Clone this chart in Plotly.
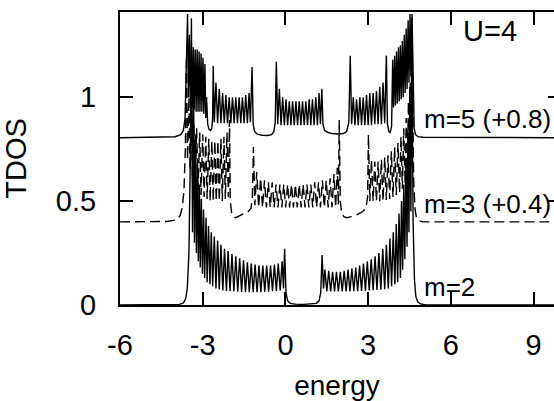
import plotly.graph_objects as go

# ---------------- data ----------------
x_ticks = [-6, -3, 0, 3, 6, 9]
x_tick_labels = ["-6", "-3", "0", "3", "6", "9"]
y_ticks = [0, 0.5, 1]
y_tick_labels = ["0", "0.5", "1"]

# m=2 : no shift
m2_energy = [-6.0, -4.2, -3.85, -3.7, -3.62, -3.56, -3.5, -3.45,
             -3.41, -3.37, -3.33, -3.30, -3.26, -3.23, -3.19, -3.16, -3.12, -3.09,
             -3.05, -3.01, -2.97, -2.93, -2.88, -2.84, -2.79, -2.74, -2.69, -2.64,
             -2.58, -2.52, -2.46, -2.40, -2.34, -2.27, -2.21, -2.14, -2.08, -2.01,
             -1.94, -1.87, -1.80, -1.73, -1.66, -1.59, -1.52, -1.45, -1.38, -1.31,
             -1.24, -1.17, -1.10, -1.03, -0.96, -0.89, -0.82, -0.75, -0.68, -0.61,
             -0.54, -0.47, -0.40, -0.33, -0.26, -0.19, -0.12, -0.07, -0.03, 0.02,
             0.08, 0.18, 0.35, 0.65, 0.95, 1.12, 1.22, 1.28, 1.33, 1.38,
             1.43, 1.50, 1.57, 1.64, 1.71, 1.78, 1.85, 1.92, 1.99, 2.06,
             2.13, 2.20, 2.27, 2.34, 2.41, 2.48, 2.55, 2.62, 2.69, 2.76,
             2.83, 2.90, 2.97, 3.04, 3.11, 3.18, 3.25, 3.32, 3.39, 3.46,
             3.53, 3.60, 3.66, 3.73, 3.79, 3.85, 3.91, 3.97, 4.02, 4.07,
             4.12, 4.17, 4.21, 4.25, 4.29, 4.33, 4.37, 4.41, 4.44, 4.48,
             4.51, 4.55, 4.58, 4.63, 4.68, 4.73, 4.80, 4.90, 5.10, 10.0]
m2_tdos = [0.0, 0.0, 0.003, 0.01, 0.03, 0.08, 0.25, 0.7,
           1.38, 0.35, 1.05, 0.30, 0.82, 0.25, 0.68, 0.21, 0.58, 0.18,
           0.51, 0.15, 0.46, 0.13, 0.42, 0.11, 0.38, 0.10, 0.35, 0.09,
           0.33, 0.08, 0.31, 0.075, 0.29, 0.07, 0.27, 0.068, 0.26, 0.066,
           0.245, 0.065, 0.235, 0.064, 0.225, 0.063, 0.215, 0.062, 0.205, 0.062,
           0.20, 0.062, 0.195, 0.062, 0.19, 0.062, 0.19, 0.063, 0.19, 0.064,
           0.19, 0.066, 0.195, 0.068, 0.20, 0.07, 0.21, 0.08, 0.27, 0.06,
           0.02, 0.008, 0.004, 0.003, 0.004, 0.008, 0.02, 0.06, 0.24, 0.08,
           0.17, 0.065, 0.165, 0.065, 0.16, 0.065, 0.16, 0.065, 0.16, 0.065,
           0.165, 0.065, 0.17, 0.065, 0.175, 0.066, 0.18, 0.067, 0.19, 0.068,
           0.20, 0.069, 0.21, 0.07, 0.22, 0.071, 0.235, 0.072, 0.25, 0.074,
           0.27, 0.076, 0.29, 0.08, 0.32, 0.09, 0.35, 0.10, 0.39, 0.11,
           0.44, 0.13, 0.50, 0.17, 0.58, 0.22, 0.70, 0.28, 0.85, 0.35,
           1.05, 0.45, 1.38, 0.40, 0.12, 0.04, 0.015, 0.005, 0.0, 0.0]

# m=3 : shifted by +0.4
m3_shift = 0.4
m3_energy = [-6.0, -4.3, -3.95, -3.82, -3.74, -3.68, -3.63,
             -3.59, -3.55, -3.50, -3.46, -3.41, -3.37, -3.32, -3.28, -3.22, -3.17,
             -3.11, -3.06, -3.00, -2.95, -2.89, -2.84, -2.78, -2.73, -2.67, -2.62,
             -2.56, -2.51, -2.45, -2.40, -2.34, -2.29, -2.23, -2.18, -2.12, -2.07,
             -2.03, -2.00, -1.95, -1.88, -1.80, -1.65, -1.50, -1.35, -1.25, -1.20,
             -1.16, -1.11, -1.04, -0.97, -0.90, -0.83, -0.76, -0.69, -0.62, -0.55,
             -0.48, -0.41, -0.34, -0.27, -0.20, -0.13, -0.06, 0.01, 0.08, 0.15,
             0.22, 0.29, 0.36, 0.43, 0.50, 0.57, 0.64, 0.71, 0.78, 0.85,
             0.92, 0.99, 1.06, 1.13, 1.20, 1.27, 1.34, 1.41, 1.48, 1.55,
             1.62, 1.69, 1.76, 1.82, 1.88, 1.92, 1.95, 1.99,
             2.04, 2.12, 2.22, 2.40, 2.60, 2.80, 2.92, 2.98,
             3.01, 3.06, 3.12, 3.18, 3.24, 3.30, 3.36, 3.42, 3.48, 3.54,
             3.60, 3.66, 3.72, 3.78, 3.84, 3.90, 3.96, 4.02, 4.08, 4.14,
             4.19, 4.24, 4.29, 4.34, 4.38, 4.42, 4.46, 4.50, 4.53, 4.57,
             4.60, 4.65, 4.70, 4.75, 4.85, 5.00, 10.0]
m3_tdos = [0.0, 0.002, 0.01, 0.03, 0.07, 0.15, 0.35,
           0.80, 0.30, 0.60, 0.25, 0.52, 0.20, 0.48, 0.17, 0.45, 0.15,
           0.43, 0.13, 0.42, 0.12, 0.41, 0.11, 0.40, 0.10, 0.39, 0.10,
           0.39, 0.10, 0.39, 0.10, 0.40, 0.10, 0.41, 0.11, 0.43, 0.12,
           0.49, 0.10, 0.04, 0.025, 0.02, 0.03, 0.04, 0.05, 0.065, 0.12,
           0.36, 0.08, 0.24, 0.07, 0.21, 0.07, 0.20, 0.07, 0.19, 0.07,
           0.19, 0.07, 0.18, 0.07, 0.18, 0.07, 0.18, 0.07, 0.18, 0.07,
           0.18, 0.07, 0.18, 0.07, 0.18, 0.07, 0.18, 0.07, 0.18, 0.07,
           0.18, 0.07, 0.19, 0.07, 0.19, 0.07, 0.20, 0.07, 0.20, 0.07,
           0.21, 0.07, 0.23, 0.07, 0.26, 0.08, 0.49, 0.10,
           0.04, 0.025, 0.02, 0.025, 0.035, 0.05, 0.065, 0.12,
           0.42, 0.10, 0.30, 0.10, 0.29, 0.10, 0.29, 0.10, 0.30, 0.10,
           0.31, 0.105, 0.32, 0.11, 0.34, 0.12, 0.36, 0.13, 0.38, 0.14,
           0.41, 0.16, 0.45, 0.18, 0.50, 0.20, 0.58, 0.23, 0.68, 0.27,
           0.80, 0.20, 0.06, 0.02, 0.005, 0.0, 0.0]

# m=5 : shifted by +0.8
m5_shift = 0.8
m5_energy = [-6.0, -4.5, -4.0, -3.8, -3.7, -3.64, -3.60,
             -3.55, -3.52, -3.48, -3.45, -3.41, -3.38, -3.34, -3.31, -3.27, -3.24,
             -3.20, -3.17, -3.13, -3.10, -3.06, -3.03, -2.99, -2.96, -2.92, -2.89,
             -2.86, -2.82, -2.77, -2.72, -2.67, -2.64,
             -2.62, -2.58, -2.52, -2.46, -2.40, -2.34, -2.28, -2.22, -2.16, -2.10,
             -2.04, -1.98, -1.92, -1.86, -1.80, -1.74, -1.68, -1.62, -1.56, -1.50,
             -1.44, -1.38, -1.32, -1.27, -1.21, -1.17,
             -1.12, -1.02, -0.85, -0.65, -0.50, -0.42, -0.37,
             -0.33, -0.28, -0.22, -0.16, -0.10, -0.04, 0.02, 0.08, 0.14, 0.20,
             0.26, 0.32, 0.38, 0.44, 0.50, 0.56, 0.62, 0.68, 0.74, 0.80,
             0.86, 0.92, 0.98, 1.04, 1.10, 1.16, 1.22, 1.27, 1.32, 1.36,
             1.42, 1.55, 1.70, 1.90, 2.10, 2.22, 2.30,
             2.35, 2.40, 2.46, 2.52, 2.58, 2.64, 2.70, 2.76, 2.82, 2.88,
             2.94, 3.00, 3.06, 3.12, 3.18, 3.24, 3.30, 3.36, 3.42, 3.48,
             3.54, 3.60, 3.66, 3.70, 3.75, 3.80, 3.85,
             3.89, 3.92, 3.96, 3.99, 4.03, 4.06, 4.10, 4.13, 4.17, 4.20,
             4.24, 4.27, 4.31, 4.34, 4.38, 4.41, 4.45, 4.48, 4.52, 4.55,
             4.59, 4.63, 4.67, 4.72, 4.80, 5.00, 10.0]
m5_tdos = [0.005, 0.007, 0.01, 0.02, 0.04, 0.10, 0.30,
           0.60, 0.20, 0.50, 0.17, 0.46, 0.15, 0.44, 0.14, 0.43, 0.13,
           0.43, 0.13, 0.42, 0.13, 0.41, 0.13, 0.39, 0.12, 0.36, 0.10,
           0.20, 0.07, 0.045, 0.04, 0.05, 0.10,
           0.35, 0.08, 0.27, 0.075, 0.24, 0.075, 0.22, 0.075, 0.21, 0.075,
           0.20, 0.075, 0.20, 0.075, 0.20, 0.075, 0.20, 0.075, 0.20, 0.075,
           0.21, 0.075, 0.22, 0.08, 0.345, 0.07,
           0.035, 0.022, 0.017, 0.016, 0.02, 0.035, 0.08,
           0.37, 0.07, 0.24, 0.065, 0.20, 0.065, 0.19, 0.065, 0.18, 0.065,
           0.18, 0.065, 0.18, 0.065, 0.18, 0.065, 0.18, 0.065, 0.18, 0.065,
           0.19, 0.065, 0.19, 0.065, 0.20, 0.065, 0.22, 0.07, 0.24, 0.07,
           0.04, 0.03, 0.025, 0.023, 0.025, 0.035, 0.08,
           0.40, 0.07, 0.20, 0.065, 0.19, 0.065, 0.20, 0.065, 0.20, 0.065,
           0.21, 0.065, 0.22, 0.065, 0.22, 0.07, 0.23, 0.07, 0.25, 0.07,
           0.27, 0.075, 0.40, 0.07, 0.035, 0.03, 0.06,
           0.38, 0.15, 0.40, 0.16, 0.42, 0.17, 0.44, 0.18, 0.45, 0.19,
           0.47, 0.20, 0.50, 0.22, 0.53, 0.24, 0.57, 0.27, 0.60, 0.30,
           0.60, 0.25, 0.05, 0.02, 0.01, 0.007, 0.005]

labels = ["m=5 (+0.8)", "m=3 (+0.4)", "m=2"]
label_y = [0.894, 0.488, 0.087]
panel_label = "U=4"

# ---------------- figure ----------------
FONT = "Liberation Sans, Arial, sans-serif"

fig = go.Figure()
fig.add_trace(go.Scatter(x=m2_energy, y=m2_tdos, mode="lines",
                         line=dict(color="black", width=1.4), showlegend=False))
fig.add_trace(go.Scatter(x=m3_energy, y=[v + m3_shift for v in m3_tdos], mode="lines",
                         line=dict(color="black", width=1.4, dash="10px,5px"),
                         showlegend=False))
fig.add_trace(go.Scatter(x=m5_energy, y=[v + m5_shift for v in m5_tdos], mode="lines",
                         line=dict(color="black", width=1.4), showlegend=False,
                         yaxis="y2"))

for txt, yy in zip(labels, label_y):
    fig.add_annotation(x=4.95, y=yy, xref="x", yref="y", text=txt, showarrow=False,
                       xanchor="left", yanchor="middle",
                       font=dict(family=FONT, size=26, color="black"))
fig.add_annotation(x=7.42, y=1.317, xref="x", yref="y", text=panel_label, showarrow=False,
                   xanchor="center", yanchor="middle",
                   font=dict(family=FONT, size=29, color="black"))

fig.update_layout(
    width=554, height=401,
    margin=dict(l=120, r=0, t=12, b=96),
    paper_bgcolor="white", plot_bgcolor="white",
    font=dict(family=FONT, color="black"),
    xaxis=dict(range=[-6, 9.74], tickvals=x_ticks, ticktext=x_tick_labels,
               ticks="inside", ticklen=13, tickwidth=2, tickcolor="black",
               showline=True, linewidth=2, linecolor="black", mirror="ticks",
               showgrid=False, zeroline=False, ticklabelstandoff=13,
               tickfont=dict(family=FONT, size=29),
               title=dict(text="energy", font=dict(family=FONT, size=28), standoff=16)),
    yaxis=dict(range=[0, 1.41], tickvals=y_ticks, ticktext=y_tick_labels,
               ticks="inside", ticklen=13, tickwidth=2, tickcolor="black",
               showline=True, linewidth=2, linecolor="black",
               showgrid=False, zeroline=False, ticklabelstandoff=16,
               tickfont=dict(family=FONT, size=29),
               title=dict(text="TDOS", font=dict(family=FONT, size=29), standoff=24)),
    yaxis2=dict(range=[0, 1.41], overlaying="y", side="right", anchor="x",
                tickvals=[0.5, 1], ticks="inside", ticklen=6, tickwidth=2,
                tickcolor="black", showticklabels=False, showline=False,
                showgrid=False, zeroline=False),
)

fig.write_html("out.html")
